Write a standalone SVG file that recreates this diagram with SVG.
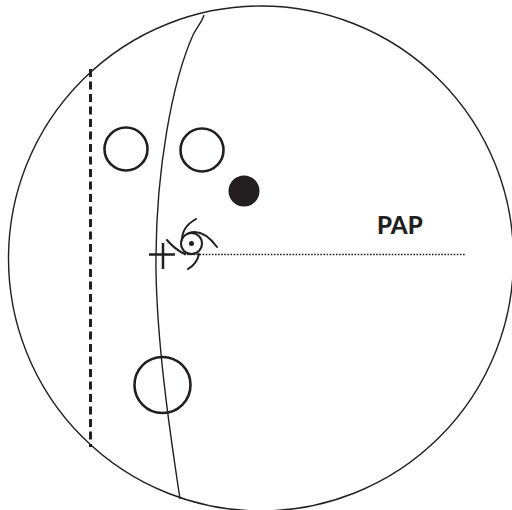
<svg xmlns="http://www.w3.org/2000/svg" width="512" height="510" viewBox="0 0 512 510">
<style>
.l{fill:none;stroke:#231f20;stroke-width:1.4}
.c{fill:none;stroke:#231f20;stroke-width:2.6}
.e{fill:none;stroke:#231f20;stroke-width:2;stroke-linecap:round}
</style>
<rect width="512" height="510" fill="#fff"/>
<g id="fundus"><circle class="l" cx="261" cy="258.500" r="252.500"/></g>
<g id="connectors">
<path id="equator" class="l" d="M204 15C202 22 197 27 193 35C173 80 155 170 156 270C157 340 168 420 180 499"/>
<path id="ora" d="M90.500 69V447" fill="none" stroke="#231f20" stroke-width="3" stroke-dasharray="8 4.500"/>
<path id="axis" d="M184 254.500H465" fill="none" stroke="#231f20" stroke-width="1.500" stroke-dasharray="1.600 1.500"/>
</g>
<g id="spot-1"><circle class="c" cx="126" cy="149" r="21.500"/></g>
<g id="spot-2"><circle class="c" cx="202" cy="150" r="21.500"/></g>
<g id="spot-filled"><circle cx="244" cy="191" r="15.500" fill="#231f20"/></g>
<g id="spot-3"><circle class="c" cx="162.500" cy="385" r="28"/></g>
<g id="cross"><path d="M149 254.500H175M163 243V269" fill="none" stroke="#231f20" stroke-width="2.500"/></g>
<g id="macula">
<circle cx="191.500" cy="243.500" r="10.500" fill="none" stroke="#231f20" stroke-width="2"/>
<circle cx="191.500" cy="243.500" r="2.500" fill="#231f20"/>
<path class="e" d="M196 219C187 224 182 232 182 240M167 240C172 246 178 251 185 254M189 233C198 230 208 235 217 247M199 254C198 259 195 265 188 269"/>
</g>
<g id="label"><text x="377" y="234" font-family="Lato,sans-serif" font-weight="900" font-size="24" fill="#231f20">PAP</text></g>
</svg>
